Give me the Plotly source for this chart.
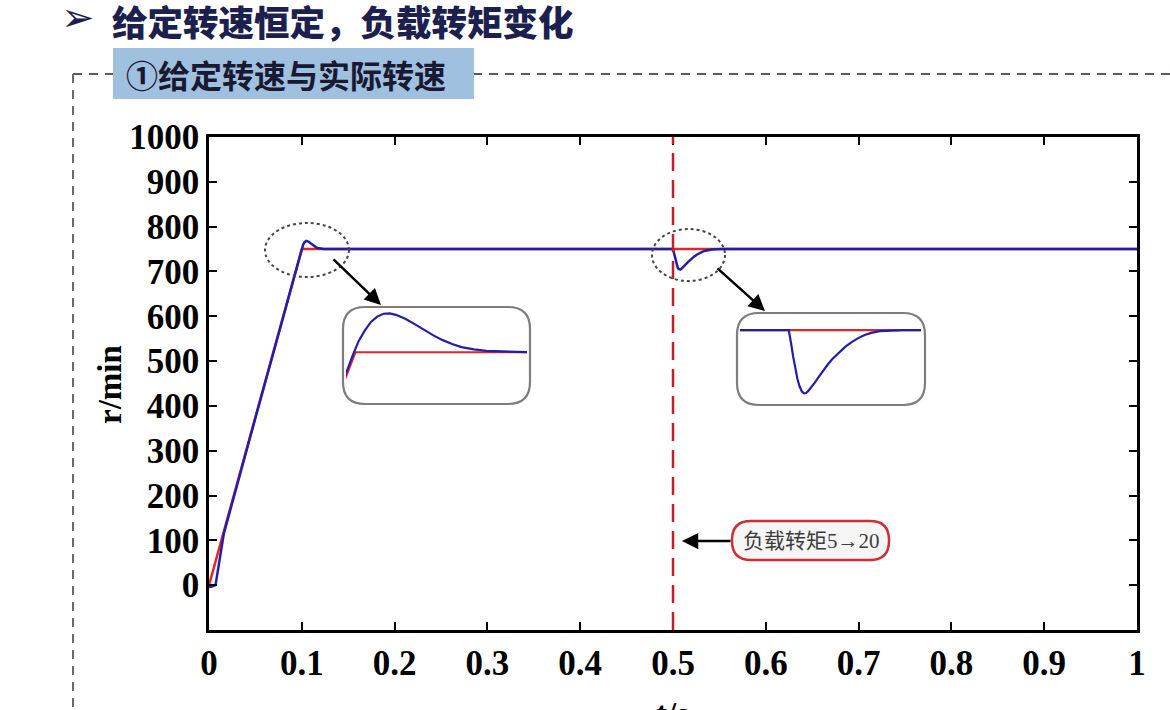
import plotly.graph_objects as go

# ---------------- data ----------------
t_ref = [0.0, 0.1, 1.0]
n_ref = [0, 750, 750]

t_act = [0.0, 0.003, 0.007, 0.011, 0.016, 0.05, 0.09, 0.096, 0.098, 0.0995, 0.1005, 0.1015,
         0.1025, 0.1035, 0.1045, 0.1055, 0.1065, 0.108, 0.1095, 0.111, 0.1125,
         0.114, 0.1155, 0.117, 0.119, 0.121, 0.124, 0.128,
         0.5, 0.5005, 0.501, 0.502, 0.503, 0.504, 0.505, 0.506, 0.507, 0.508,
         0.509, 0.5105, 0.512, 0.514, 0.516, 0.518, 0.52, 0.523, 0.526, 0.529,
         0.532, 0.535, 0.538, 0.542, 0.547, 0.553, 1.0]
n_act = [-4, -3, 0, 55, 115, 373, 672, 721, 737, 748, 755, 760,
         764, 766.5, 767.8, 768, 767.3, 765.5, 763, 760.3, 757.8,
         755.6, 753.8, 752.4, 751.3, 750.6, 750.2, 750,
         750, 746, 741, 731, 722, 714.5, 709, 705.5, 704, 704.3,
         705.8, 708.5, 711.8, 716.3, 720.8, 725, 728.8, 733.6, 737.8, 741.3,
         744.2, 746.4, 748, 749.2, 749.8, 750, 750]

x_ticks = [0, 0.1, 0.2, 0.3, 0.4, 0.5, 0.6, 0.7, 0.8, 0.9, 1.0]
x_labels = ["0", "0.1", "0.2", "0.3", "0.4", "0.5", "0.6", "0.7", "0.8", "0.9", "1"]
y_ticks = [0, 100, 200, 300, 400, 500, 600, 700, 800, 900, 1000]
y_labels = [str(v) for v in y_ticks]

t_load = 0.5
bullet = "➢"
header = "给定转速恒定，负载转矩变化"
subtitle = "①给定转速与实际转速"
callout = "负载转矩5→20"
x_title = "t/s"
y_title = "r/min"

# ---------------- layout helpers ----------------
W, H = 1170, 710
L, R, T, B = 209, 1137, 137, 630


def px(x):
    return (x - L) / (R - L)


def py(y):
    return (B - y) / (B - T)


def rrect(x0, y0, x1, y1, r):
    pts = [f"M{px(x0 + r)},{py(y0)}",
           f"L{px(x1 - r)},{py(y0)}",
           f"Q{px(x1)},{py(y0)} {px(x1)},{py(y0 + r)}",
           f"L{px(x1)},{py(y1 - r)}",
           f"Q{px(x1)},{py(y1)} {px(x1 - r)},{py(y1)}",
           f"L{px(x0 + r)},{py(y1)}",
           f"Q{px(x0)},{py(y1)} {px(x0)},{py(y1 - r)}",
           f"L{px(x0)},{py(y0 + r)}",
           f"Q{px(x0)},{py(y0)} {px(x0 + r)},{py(y0)}",
           "Z"]
    return " ".join(pts)


RED = "rgb(222,40,40)"
BLUE = "rgb(35,30,170)"
NAVY = "rgb(28,32,78)"
SERIF = "Times New Roman, Liberation Serif, serif"
CJK = "Noto Sans CJK SC, Noto Sans, sans-serif"

fig = go.Figure()

fig.add_trace(go.Scatter(x=t_ref, y=n_ref, mode="lines",
                         line=dict(color=RED, width=2.5), showlegend=False))
fig.add_trace(go.Scatter(x=t_act, y=n_act, mode="lines",
                         line=dict(color=BLUE, width=2.5), showlegend=False))

for xa, ya in (("x2", "y2"), ("x3", "y3")):
    fig.add_trace(go.Scatter(x=t_ref, y=n_ref, mode="lines", xaxis=xa, yaxis=ya,
                             line=dict(color=RED, width=2.2), showlegend=False))
    fig.add_trace(go.Scatter(x=t_act, y=n_act, mode="lines", xaxis=xa, yaxis=ya,
                             line=dict(color=BLUE, width=2.2), showlegend=False))

axis_common = dict(showline=True, linecolor="black", linewidth=2.5, mirror="ticks",
                   ticks="inside", ticklen=8, tickwidth=2.2, tickcolor="black",
                   showgrid=False, zeroline=False,
                   tickfont=dict(family=SERIF, size=35, color="black", weight="bold"))

hidden = dict(showline=False, showgrid=False, zeroline=False, showticklabels=False, ticks="")

fig.update_layout(
    width=W, height=H,
    margin=dict(l=L, r=W - R, t=T, b=H - B),
    paper_bgcolor="white", plot_bgcolor="white",
    xaxis=dict(range=[0, 1], tickmode="array", tickvals=x_ticks, ticktext=x_labels,
               ticklabelstandoff=0, **axis_common),
    yaxis=dict(range=[-100, 1000], tickmode="array", tickvals=y_ticks, ticktext=y_labels,
               ticklabelstandoff=0, **axis_common),
    xaxis2=dict(domain=[px(346), px(527)], range=[0.0985, 0.1275], anchor="y2", **hidden),
    yaxis2=dict(domain=[py(402), py(309)], range=[727, 770], anchor="x2", **hidden),
    xaxis3=dict(domain=[px(740), px(921)], range=[0.4775, 0.561], anchor="y3", **hidden),
    yaxis3=dict(domain=[py(403), py(315)], range=[697, 761], anchor="x3", **hidden),
)

FRAME = "rgb(85,90,105)"
shapes = []
shapes.append(dict(type="line", xref="paper", yref="paper", x0=px(73), x1=px(1172),
                   y0=py(74), y1=py(74), line=dict(color=FRAME, width=1.8, dash="9px,7px")))
shapes.append(dict(type="line", xref="paper", yref="paper", x0=px(73), x1=px(73),
                   y0=py(74), y1=py(712), line=dict(color=FRAME, width=1.8, dash="9px,7px")))
shapes.append(dict(type="rect", xref="paper", yref="paper", x0=px(113), x1=px(474),
                   y0=py(99), y1=py(48), fillcolor="rgb(160,192,224)",
                   line=dict(color="rgb(160,192,224)", width=0)))
shapes.append(dict(type="line", xref="x", yref="paper", x0=t_load, x1=t_load, y0=0, y1=1,
                   line=dict(color="rgb(200,30,40)", width=2.5, dash="18px,9px")))
shapes.append(dict(type="circle", xref="paper", yref="paper", x0=px(265), x1=px(349),
                   y0=py(277), y1=py(223), line=dict(color="rgb(70,70,70)", width=2, dash="dot")))
shapes.append(dict(type="circle", xref="paper", yref="paper", x0=px(652), x1=px(725),
                   y0=py(281), y1=py(229), line=dict(color="rgb(70,70,70)", width=2, dash="dot")))
shapes.append(dict(type="path", xref="paper", yref="paper", path=rrect(343, 307, 530, 404, 22),
                   line=dict(color="rgb(125,125,125)", width=2.2)))
shapes.append(dict(type="path", xref="paper", yref="paper", path=rrect(737, 313, 925, 405, 22),
                   line=dict(color="rgb(125,125,125)", width=2.2)))
shapes.append(dict(type="path", xref="paper", yref="paper", path=rrect(732, 521, 889, 560, 19),
                   fillcolor="rgb(245,245,245)", line=dict(color="rgb(200,50,55)", width=2.5)))
fig.update_layout(shapes=shapes)

ann = []
ann.append(dict(xref="paper", yref="paper", x=px(78), y=py(17), text=bullet, showarrow=False,
                xanchor="center", yanchor="middle",
                font=dict(family="DejaVu Sans", size=40, color=NAVY)))
ann.append(dict(xref="paper", yref="paper", x=px(110), y=py(20), text=header, showarrow=False,
                xanchor="left", yanchor="middle",
                font=dict(family=CJK, size=35.5, color=NAVY, weight=900)))
ann.append(dict(xref="paper", yref="paper", x=px(286), y=py(74), text=subtitle, showarrow=False,
                xanchor="center", yanchor="middle",
                font=dict(family=CJK, size=32, color="rgb(25,25,50)", weight="bold")))
ann.append(dict(xref="paper", yref="paper", x=px(110), y=py(385), text=y_title, showarrow=False,
                textangle=-90, xanchor="center", yanchor="middle",
                font=dict(family=SERIF, size=33, color="black", weight="bold")))
ann.append(dict(xref="paper", yref="paper", x=px(672), y=py(694), text=x_title, showarrow=False,
                xanchor="center", yanchor="top",
                font=dict(family=SERIF, size=33, color="black", weight="bold")))
ann.append(dict(xref="paper", yref="paper", x=px(811), y=py(541), text=callout, showarrow=False,
                xanchor="center", yanchor="middle",
                font=dict(family="Liberation Serif, Noto Sans CJK SC", size=21, color="rgb(60,60,60)")))
ann.append(dict(xref="paper", yref="paper", x=px(682), y=py(541), ax=50, ay=0, text="",
                showarrow=True, arrowhead=2, arrowsize=1.3, arrowwidth=2.5, arrowcolor="black"))
ann.append(dict(xref="paper", yref="paper", x=px(381), y=py(305), ax=-49, ay=-47, text="",
                showarrow=True, arrowhead=2, arrowsize=1.3, arrowwidth=2.5, arrowcolor="black"))
ann.append(dict(xref="paper", yref="paper", x=px(765), y=py(311), ax=-49, ay=-44, text="",
                showarrow=True, arrowhead=2, arrowsize=1.3, arrowwidth=2.5, arrowcolor="black"))
fig.update_layout(annotations=ann)

fig.write_html("out.html", config={"displayModeBar": False},
               post_script="document.body.style.margin='0px';document.body.style.overflow='hidden';")
